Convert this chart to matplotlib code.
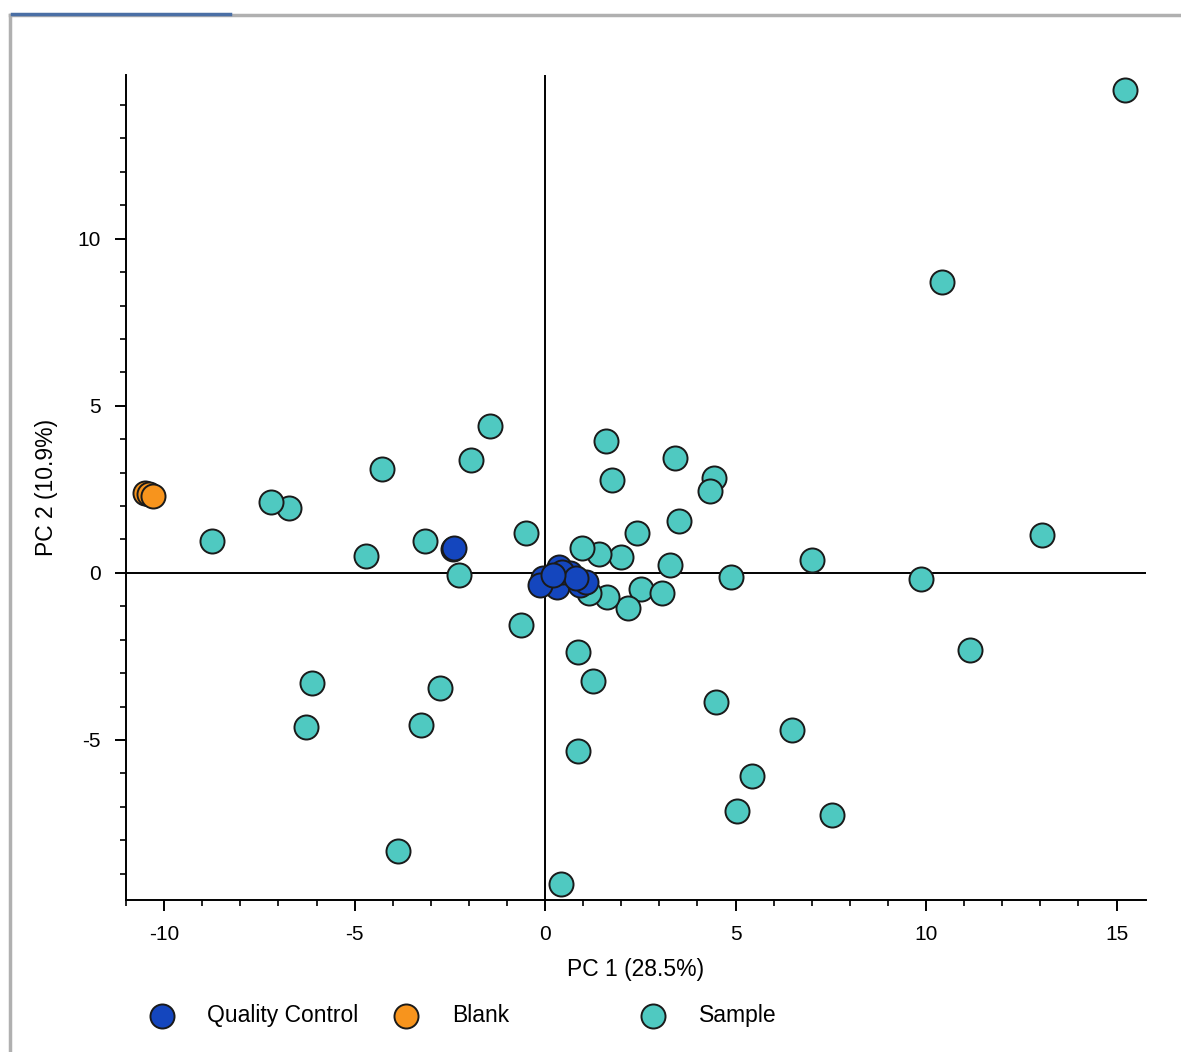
import matplotlib
matplotlib.use("Agg")
import matplotlib.pyplot as plt
from matplotlib.lines import Line2D
from matplotlib.ticker import MultipleLocator

plt.rcParams['font.family'] = ['Liberation Sans', 'DejaVu Sans']
plt.rcParams['axes.unicode_minus'] = False

# PCA scores
sample_x = [15.22, 10.42, 13.04, 9.87, 11.15, 7.01, 6.48, 5.43, 5.04, 7.53,
            4.49, 4.88, 3.41, 4.44, 4.33, 3.52, 2.41, 3.28, 1.60, 1.76,
            1.99, 1.42, 0.97, 2.52, 3.07, 2.18, 1.63, 1.15, 0.87, 1.26,
            0.87, 0.42, -0.50, -0.63, -1.44, -1.94, -2.26, -3.15, -4.28, -4.70,
            -2.76, -3.25, -3.86, -6.12, -6.27, -6.72, -7.19, -8.74]
sample_y = [14.46, 8.71, 1.14, -0.18, -2.31, 0.39, -4.70, -6.08, -7.13, -7.25,
            -3.86, -0.12, 3.44, 2.84, 2.46, 1.56, 1.20, 0.24, 3.95, 2.78,
            0.48, 0.57, 0.75, -0.48, -0.60, -1.05, -0.72, -0.60, -2.37, -3.23,
            -5.33, -9.31, 1.20, -1.56, 4.40, 3.38, -0.06, 0.96, 3.11, 0.51,
            -3.44, -4.55, -8.32, -3.29, -4.61, 1.95, 2.13, 0.96]

qc_x = [-0.05, 0.37, 0.31, 0.66, 0.92, 1.08, -0.13, 0.45, 0.80, 0.20, -2.41, -2.38]
qc_y = [-0.15, 0.18, -0.42, 0.00, -0.36, -0.27, -0.36, 0.03, -0.15, -0.05, 0.72, 0.74]

blank_x = [-10.50, -10.40, -10.28]
blank_y = [2.40, 2.35, 2.30]

teal = '#4FC9C1'
blue = '#1446BE'
orange = '#F7941D'
edge = '#1a1a1a'

fig = plt.figure(figsize=(11.81, 10.52), dpi=100)
ax = fig.add_axes([0.1067, 0.1445, 0.8636, 0.7842])

ms = 300
s_art = ax.scatter(sample_x, sample_y, s=ms, c=teal, edgecolors=edge, linewidths=1.4, zorder=3)
b_art = ax.scatter(blank_x, blank_y, s=ms, c=orange, edgecolors=edge, linewidths=1.4, zorder=4)
q_art = ax.scatter(qc_x, qc_y, s=ms, c=blue, edgecolors=edge, linewidths=1.4, zorder=5)

ax.axhline(0, color='black', lw=1.4, zorder=2)
ax.axvline(0, color='black', lw=1.4, zorder=2)

ax.set_xlim(-11.0, 15.77)
ax.set_ylim(-9.79, 14.9)

for side in ['top', 'right']:
    ax.spines[side].set_visible(False)
for side in ['left', 'bottom']:
    ax.spines[side].set_linewidth(1.4)

ax.xaxis.set_major_locator(MultipleLocator(5))
ax.xaxis.set_minor_locator(MultipleLocator(1))
ax.yaxis.set_major_locator(MultipleLocator(5))
ax.yaxis.set_minor_locator(MultipleLocator(1))
ax.tick_params(which='major', length=8, width=1.4, labelsize=15, pad=10)
ax.tick_params(which='minor', length=4, width=1.2)

ax.set_xlabel('PC 1 (28.5%)', fontsize=16.5, labelpad=10)
ax.set_ylabel('PC 2 (10.9%)', fontsize=16.5, labelpad=14)

# legend entries spread along the bottom
handles = [(q_art, 'Quality Control', 0.100), (b_art, 'Blank', 0.307), (s_art, 'Sample', 0.516)]
for h, lab, xpos in handles:
    fig.legend([h], [lab], loc='center left', bbox_to_anchor=(xpos, 0.035),
               frameon=False, fontsize=16.5, handletextpad=1.0,
               markerscale=1.0, scatterpoints=1)

# window frame decoration
fig.add_artist(Line2D([0.0085, 0.0085], [0.0, 0.986], color='#b0b0b0', lw=2.5))
fig.add_artist(Line2D([0.0085, 1.0], [0.986, 0.986], color='#b0b0b0', lw=2.5))
fig.add_artist(Line2D([0.0100, 0.195], [0.987, 0.987], color='#4a6fa5', lw=2.5))

fig.savefig('out.png', dpi=100)
